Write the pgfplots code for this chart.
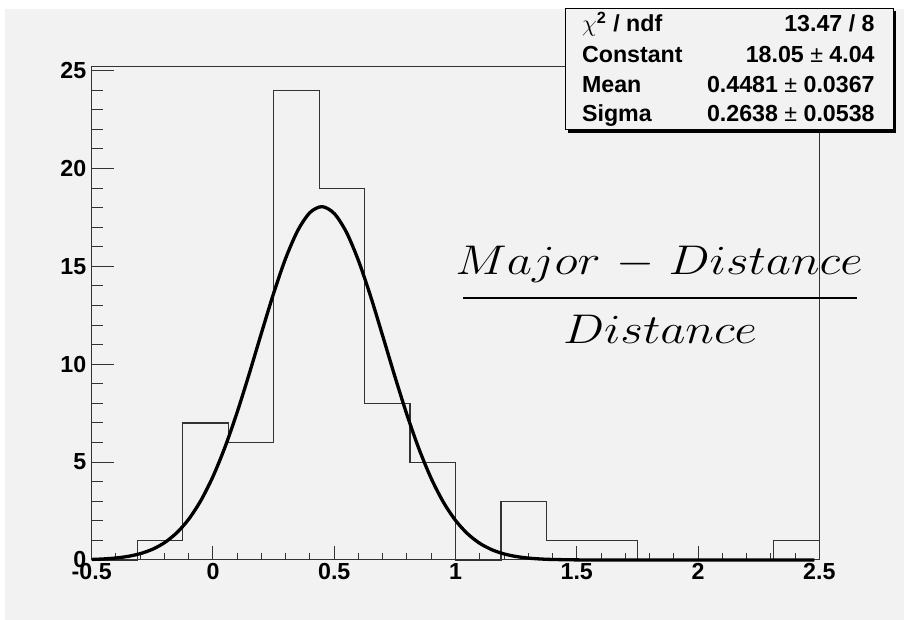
\documentclass[border=0pt]{standalone}
\usepackage{pgfplots}
\pgfplotsset{compat=1.18}
\usepackage{fontspec}
\setmainfont{Liberation Sans}
\definecolor{bg}{HTML}{F2F2F2}
\definecolor{ln}{HTML}{333333}
\newcommand{\tf}{\fontsize{11.6}{13}\selectfont\bfseries}
\pgfplotstableread{
x y
-0.5 0.028
-0.45 0.055
-0.4 0.103
-0.35 0.186
-0.3 0.324
-0.25 0.544
-0.2 0.883
-0.15 1.382
-0.1 2.085
-0.05 3.036
0 4.265
0.05 5.780
0.1 7.557
0.15 9.532
0.2 11.60
0.25 13.62
0.3 15.42
0.35 16.84
0.4 17.75
0.45 18.05
0.5 17.70
0.55 16.75
0.6 15.29
0.65 13.47
0.7 11.44
0.75 9.377
0.8 7.415
0.85 5.655
0.9 4.162
0.95 2.955
1.0 2.023
1.05 1.337
1.1 0.852
1.15 0.524
1.2 0.311
1.25 0.178
1.3 0.098
1.35 0.052
1.4 0.027
1.5 0.006
1.6 0.001
1.7 0
2.48 0
}\fitdata
\pgfplotstableread{
x y
-0.5 0
-0.3125 1
-0.125 7
0.0625 6
0.25 24
0.4375 19
0.625 8
0.8125 5
1.0 0
1.1875 3
1.375 1
1.5625 1
1.75 0
1.9375 0
2.125 0
2.3125 1
2.5 1
2.5 0
}\histdata
\begin{document}
\begin{tikzpicture}[x=1pt,y=1pt]
\fill[white] (0,0) rectangle (452,310);
\fill[bg] (2.5,0) rectangle (452,305.5);
% x ticks axis
\begin{axis}[at={(45.85pt,30pt)}, anchor=south west, scale only axis,
  width=363.8pt, height=246.65pt, xmin=-0.5, xmax=2.5, ymin=0, ymax=25.2,
  axis line style={ln, line width=0.5pt},
  tick style={ln, line width=0.5pt},
  tick align=inside, xtick pos=bottom,
  xtick={-0.5,0,0.5,1,1.5,2,2.5},
  xticklabels={-0.5,0,0.5,1,1.5,2,2.5},
  minor x tick num=4,
  ytick=\empty,
  major tick length=7.2pt, minor tick length=3.4pt,
  xticklabel style={font=\tf, anchor=north, inner sep=0pt, yshift=-1.5pt},
]
\end{axis}
% y ticks and data axis
\begin{axis}[at={(45.85pt,30pt)}, anchor=south west, scale only axis,
  width=363.8pt, height=246.65pt, xmin=-0.5, xmax=2.5, ymin=0, ymax=25.2,
  axis line style={ln, line width=0.5pt},
  tick style={ln, line width=0.5pt},
  tick align=inside, ytick pos=left,
  xtick=\empty,
  ytick={0,5,10,15,20,25},
  minor y tick num=4,
  major tick length=11pt, minor tick length=5.5pt,
  yticklabel style={font=\tf, anchor=east, inner sep=0pt, xshift=-2.5pt},
  /pgf/number format/assume math mode=true,
  clip=false,
]
\addplot[const plot, draw=ln, line width=0.55pt] table[x=x,y=y] {\histdata};
\addplot[smooth, black, line width=1.65pt] table[x=x,y=y] {\fitdata};
\end{axis}
% stats box
\fill[black] (284,243.5) rectangle (448,304.3);
\filldraw[fill=bg, draw=black, line width=0.5pt] (282.5,245) rectangle (446.5,305.85);
\node[anchor=base west, inner sep=0pt, font=\tf] at (290.85,294) {$\chi$\textsuperscript{2} / ndf};
\node[anchor=base west, inner sep=0pt, font=\tf] at (290.85,278.75) {Constant};
\node[anchor=base west, inner sep=0pt, font=\tf] at (290.85,263.75) {Mean};
\node[anchor=base west, inner sep=0pt, font=\tf] at (290.85,249) {Sigma};
\node[anchor=base east, inner sep=0pt, font=\tf] at (437.5,294) {13.47 / 8};
\node[anchor=base east, inner sep=0pt, font=\tf] at (437.5,278.75) {18.05 {\mdseries ±} 4.04};
\node[anchor=base east, inner sep=0pt, font=\tf] at (437.5,263.75) {0.4481 {\mdseries ±} 0.0367};
\node[anchor=base east, inner sep=0pt, font=\tf] at (437.5,249) {0.2638 {\mdseries ±} 0.0538};
% fraction label
\node[anchor=base, inner sep=0pt, font=\fontsize{19.5}{22}\selectfont, xscale=1.18] at (329.5,172.5) {$Major\hspace{0.35em}{-}\hspace{0.3em}Distance$};
\node[anchor=base, inner sep=0pt, font=\fontsize{19.5}{22}\selectfont, xscale=1.18] at (330,138.35) {$Distance$};
\draw[black, line width=1pt] (231.5,161) -- (428.5,161);
\end{tikzpicture}
\end{document}
